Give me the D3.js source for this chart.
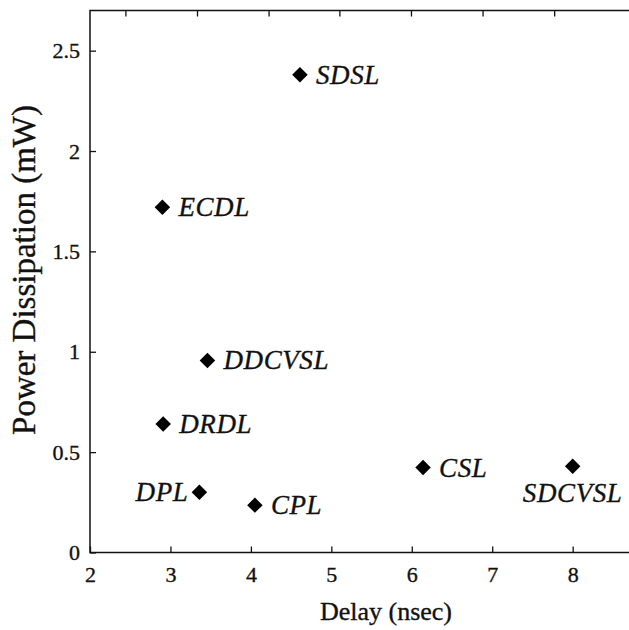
<!DOCTYPE html>
<html>
<head>
<meta charset="utf-8">
<script src="https://cdn.jsdelivr.net/npm/d3@7"></script>
<style>
  html, body { margin: 0; padding: 0; background: #fff; }
  svg { display: block; }
  svg text { font-family: "Liberation Serif", "Times New Roman", Times, serif; stroke: #111; stroke-width: 0.35px; }
</style>
</head>
<body>
<svg id="chart" width="629" height="630"></svg>
<script>
// ---- data ----
const names  = ["SDSL", "ECDL", "DDCVSL", "DRDL", "DPL", "CPL", "CSL", "SDCVSL"];
const delay  = [4.61, 2.90, 3.46, 2.91, 3.36, 4.05, 6.14, 8.00];
const power  = [2.38, 1.72, 0.957, 0.64, 0.30, 0.236, 0.423, 0.43];
const labelPos = ["right", "right", "right", "right", "left", "right", "right", "below"];
const xTicks = [2, 3, 4, 5, 6, 7, 8];
const xTopTicks = [2.44, 3.33, 4.22, 5.10, 5.99, 6.88, 7.77];
const yTicks = [0, 0.5, 1, 1.5, 2, 2.5];
const yTickLabels = ["0", "0.5", "1", "1.5", "2", "2.5"];
const xTitle = "Delay (nsec)";
const yTitle = "Power Dissipation (mW)";

(function () {
// ---- layout ----
const mLeft = 90, mRight = 633, mTop = 10.5, mBottom = 552.5;
const svg = d3.select("#chart");
const x = d3.scaleLinear().domain([2, 8.75]).range([mLeft, mRight]);
const y = d3.scaleLinear().domain([0, 2.7]).range([mBottom, mTop]);
const serif = "Liberation Serif";
const ink = "#111";

// frame
svg.append("rect")
  .attr("x", mLeft).attr("y", mTop)
  .attr("width", mRight - mLeft).attr("height", mBottom - mTop)
  .attr("fill", "none").attr("stroke", ink).attr("stroke-width", 1.5);

// bottom axis (inward ticks)
const xAxis = d3.axisBottom(x).tickValues(xTicks).tickSizeInner(-6).tickSizeOuter(0)
  .tickPadding(14).tickFormat(d3.format("d"));
const gx = svg.append("g").attr("transform", `translate(0,${mBottom})`).call(xAxis)
  .attr("font-family", serif).attr("font-size", 22);
gx.select(".domain").remove();
gx.selectAll(".tick line").attr("stroke", ink).attr("stroke-width", 1.3);
gx.selectAll(".tick text").attr("fill", ink);

// top axis (inward ticks, no labels)
const xTopAxis = d3.axisTop(x).tickValues(xTopTicks).tickSizeInner(-6).tickSizeOuter(0).tickFormat("");
const gxt = svg.append("g").attr("transform", `translate(0,${mTop})`).call(xTopAxis);
gxt.select(".domain").remove();
gxt.selectAll(".tick line").attr("stroke", ink).attr("stroke-width", 1.3);

// left axis (inward ticks)
const yAxis = d3.axisLeft(y).tickValues(yTicks).tickSizeInner(-6).tickSizeOuter(0)
  .tickPadding(10).tickFormat((d, i) => yTickLabels[i]);
const gy = svg.append("g").attr("transform", `translate(${mLeft},0)`).call(yAxis)
  .attr("font-family", serif).attr("font-size", 22);
gy.select(".domain").remove();
gy.selectAll(".tick line").attr("stroke", ink).attr("stroke-width", 1.3);
gy.selectAll(".tick text").attr("fill", ink);

// axis titles
svg.append("text")
  .attr("x", 386).attr("y", 620)
  .attr("text-anchor", "middle")
  .attr("font-family", serif).attr("font-size", 26).attr("fill", ink)
  .text(xTitle);
svg.append("text")
  .attr("transform", `translate(35,${270}) rotate(-90)`)
  .attr("text-anchor", "middle")
  .attr("font-family", serif).attr("font-size", 33).attr("fill", ink)
  .text(yTitle);

// points
const pts = names.map((n, i) => ({ name: n, x: delay[i], y: power[i], pos: labelPos[i] }));
const sym = d3.symbol().type(d3.symbolSquare).size(120);
svg.append("g").selectAll("path").data(pts).join("path")
  .attr("d", sym)
  .attr("transform", d => `translate(${x(d.x)},${y(d.y)}) rotate(45)`)
  .attr("fill", "#000");

// labels
svg.append("g").selectAll("text").data(pts).join("text")
  .attr("font-family", serif).attr("font-style", "italic").attr("font-size", 27)
  .attr("letter-spacing", 0.6).attr("fill", ink)
  .attr("x", d => d.pos === "right" ? x(d.x) + 16 : d.pos === "left" ? x(d.x) - 11 : x(d.x))
  .attr("y", d => d.pos === "below" ? y(d.y) + 36 : y(d.y) + 9)
  .attr("text-anchor", d => d.pos === "right" ? "start" : d.pos === "left" ? "end" : "middle")
  .text(d => d.name);
})();
</script>
</body>
</html>
